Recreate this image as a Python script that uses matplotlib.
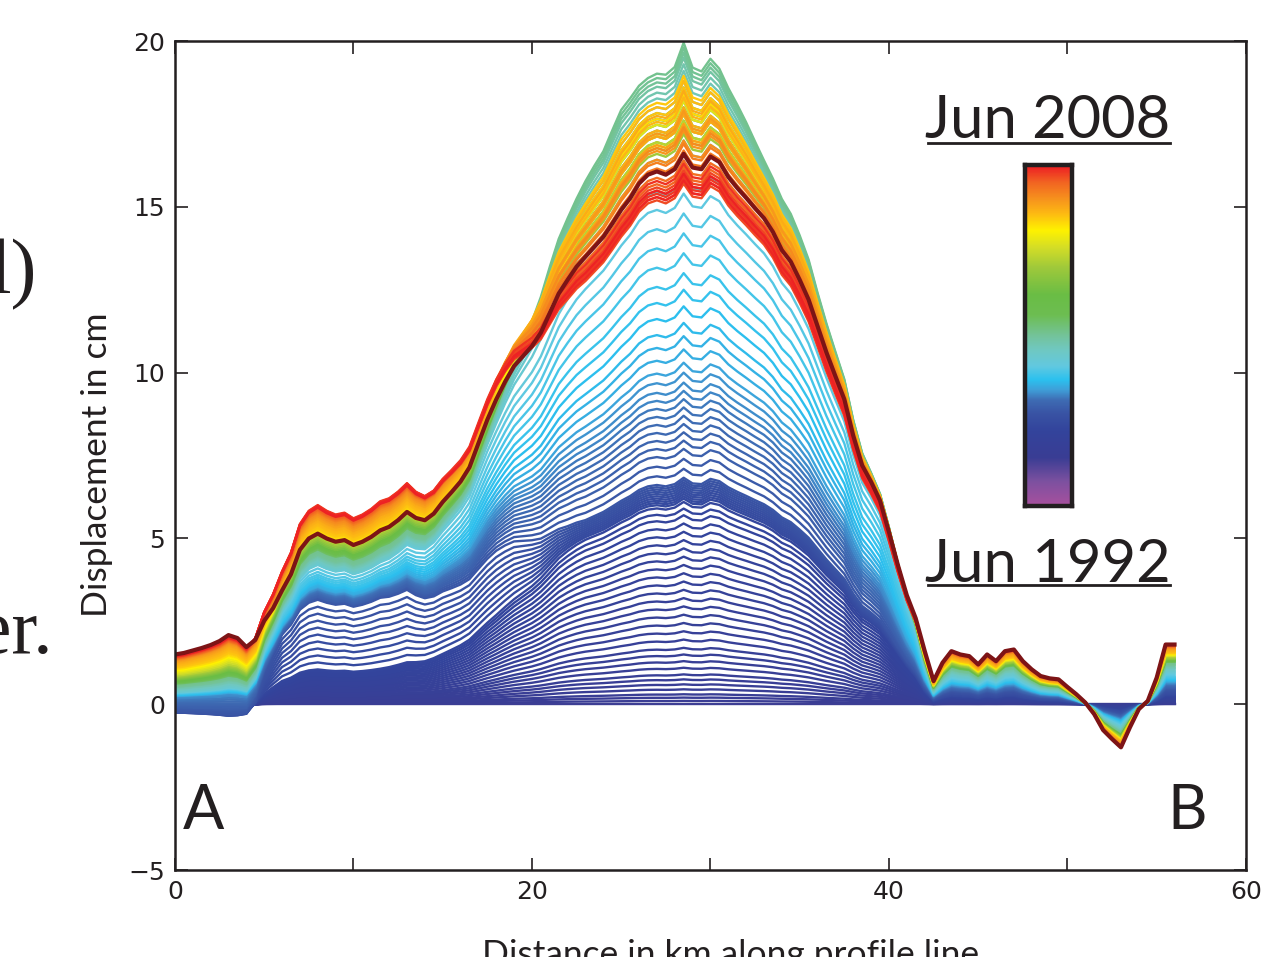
import numpy as np
import matplotlib
matplotlib.use("Agg")
import matplotlib.pyplot as plt
from matplotlib.colors import LinearSegmentedColormap
from matplotlib.lines import Line2D


# sample positions along the profile, km
X_KM = np.arange(0, 56.01, 0.5)

# spatial patterns (value per 0.5 km sample)
WEST_SHAPE = np.concatenate([
    [1.0, 1.03, 1.08, 1.13, 1.19, 1.27, 1.39, 1.33, 1.15, 0.9, 0.5, 0.2],
    np.zeros(101)])
LEFT_SHAPE = np.concatenate([
    np.zeros(9),
    [0.12, 0.36, 0.53, 0.70, 0.80, 0.95, 1.02, 1.05, 1.02, 1.0, 1.01, 0.98,
     1.0, 1.03, 1.07, 1.058, 1.065, 1.082, 0.994, 0.929, 0.902, 0.906, 0.882,
     0.862, 0.848, 0.86, 0.87, 0.86, 0.80, 0.726, 0.618, 0.51, 0.39, 0.29,
     0.19, 0.105, 0.05],
    np.zeros(67)])
DOME_SHAPE = np.concatenate([
    np.zeros(24),
    [0.01, 0.02, 0.03, 0.045, 0.06, 0.08, 0.1, 0.125, 0.15, 0.18, 0.22,
     0.26, 0.3, 0.35, 0.4, 0.45, 0.5, 0.56, 0.625, 0.69, 0.74, 0.78, 0.813,
     0.831, 0.849, 0.873, 0.898, 0.919, 0.946, 0.962, 0.968, 0.962, 0.972,
     1.0, 0.975, 0.972, 0.995, 0.985, 0.958, 0.938, 0.92, 0.901, 0.883,
     0.858, 0.825, 0.804, 0.771, 0.735, 0.687, 0.639, 0.596, 0.554, 0.488,
     0.434, 0.404, 0.370, 0.313, 0.247, 0.18, 0.12, 0.04],
    np.zeros(28)])
# narrower crest: the part of the uplift above the 2008 level
CREST_SHAPE = np.concatenate([
    np.zeros(33),
    [0.0, 0.02, 0.04, 0.08, 0.13, 0.18, 0.24, 0.3, 0.38, 0.46, 0.52, 0.57,
     0.62, 0.68, 0.73, 0.77, 0.84, 0.9, 0.9, 0.88, 0.87, 0.88, 0.9, 0.92,
     1.0, 0.9, 0.88, 0.88, 0.84, 0.8, 0.75, 0.68, 0.6, 0.52, 0.48, 0.46,
     0.43, 0.4, 0.36, 0.3, 0.26, 0.22, 0.18, 0.14, 0.11, 0.08, 0.06, 0.04,
     0.02, 0.0],
    np.zeros(30)])
EAST_SHAPE = np.concatenate([
    np.zeros(81),
    [0.1, 0.3, 0.6, 0.95, 0.7, 1.25, 1.6, 1.5, 1.45, 1.2, 1.5, 1.3, 1.6, 1.65,
     1.3, 1.05, 0.85, 0.78, 0.75, 0.52, 0.3, 0.05, -0.3, -0.78, -1.05, -1.3,
     -0.7, -0.15, 0.1, 0.8, 1.8, 1.8]])
DOME_2008_CM = 16.6

# one entry per acquisition, oldest first (last one = Jun 2008)
COLOR_POS = [
    0.140, 0.143, 0.146, 0.149, 0.152, 0.155, 0.158, 0.161, 0.164, 0.167,
    0.170, 0.173, 0.176, 0.179, 0.182, 0.185, 0.188, 0.191, 0.194, 0.197,
    0.200, 0.203, 0.206, 0.209, 0.212, 0.215, 0.218, 0.221, 0.224, 0.227,
    0.240, 0.244, 0.248, 0.252, 0.256, 0.260, 0.264, 0.268, 0.272, 0.276,
    0.280, 0.285, 0.290, 0.295, 0.300, 0.305, 0.310, 0.315, 0.320, 0.325,
    0.330, 0.335,
    0.345, 0.352, 0.358, 0.364, 0.370, 0.376, 0.382, 0.388, 0.394, 0.400,
    0.410, 0.420,
    0.43, 0.44, 0.45, 0.46, 0.47, 0.48, 0.49, 0.50, 0.505, 0.51,
    0.55, 0.575, 0.60, 0.62, 0.64, 0.66, 0.68, 0.70,
    0.73, 0.75, 0.77, 0.79, 0.81, 0.83,
    0.845, 0.850, 0.856, 0.862, 0.868, 0.874, 0.880, 0.886, 0.892, 0.898,
    0.904, 0.910, 0.918, 0.926,
    0.940, 0.947, 0.953, 0.960, 0.966, 0.972, 0.978, 0.984, 0.990, 0.996,
    1.0]
# displacement at the dome peak (x = 28.5 km), cm
CENTER_CM = [
    0.0, 0.1, 0.2, 0.3, 0.45, 0.6, 0.75, 0.9, 1.1, 1.3,
    1.5, 1.7, 1.95, 2.2, 2.45, 2.7, 2.95, 3.2, 3.45, 3.7,
    3.95, 4.2, 4.45, 4.7, 4.95, 5.2, 5.45, 5.7, 5.9, 6.1,
    6.2, 6.27, 6.34, 6.41, 6.48, 6.55, 6.62, 6.69, 6.76, 6.83,
    7.1, 7.4, 7.7, 7.95, 8.2, 8.45, 8.7, 8.95, 9.2, 9.45,
    9.7, 10.0,
    10.3, 10.7, 11.1, 11.5, 12.0, 12.5, 13.0, 13.6, 14.2, 14.8,
    15.4, 15.95,
    17.0, 17.8, 18.4, 18.8, 19.1, 19.3, 19.5, 19.65, 19.8, 19.95,
    18.6, 18.4, 18.2, 18.0, 17.8, 17.6, 17.4, 17.2,
    17.6, 17.9, 18.2, 17.5, 17.8, 18.4,
    18.95, 18.6, 18.8, 18.3, 18.0, 18.5, 17.8, 17.5, 17.9, 17.3,
    17.0, 17.4, 16.9, 16.7,
    16.4, 16.2, 16.0, 15.8, 15.7, 16.1, 15.9, 16.3, 15.8, 16.0,
    16.6]
# displacement on the western shoulder (x = 9 km), cm
LEFT_CM = [
    0.0, 0.02, 0.04, 0.06, 0.08, 0.1, 0.13, 0.16, 0.19, 0.22,
    0.25, 0.28, 0.32, 0.36, 0.4, 0.44, 0.48, 0.52, 0.56, 0.6,
    0.64, 0.68, 0.72, 0.76, 0.8, 0.84, 0.88, 0.92, 0.96, 1.0,
    1.2, 1.4, 1.6, 1.8, 2.0, 2.2, 2.4, 2.6, 2.8, 3.0,
    3.03, 3.06, 3.09, 3.12, 3.15, 3.18, 3.21, 3.24, 3.27, 3.3,
    3.32, 3.34,
    3.37, 3.4, 3.44, 3.48, 3.52, 3.56, 3.6, 3.66, 3.72, 3.8,
    3.9, 4.0,
    4.02, 4.06, 4.1, 4.14, 4.18, 4.22, 4.26, 4.3, 4.35, 4.4,
    4.45, 4.5, 4.55, 4.6, 4.65, 4.7, 4.75, 4.8,
    4.85, 4.88, 4.9, 4.93, 4.96, 5.0,
    5.05, 5.1, 5.15, 5.2, 5.25, 5.3, 5.33, 5.36, 5.4, 5.43,
    5.46, 5.5, 5.52, 5.55,
    5.58, 5.6, 5.62, 5.65, 5.68, 5.7, 5.72, 5.7, 5.68, 5.65,
    4.9]
# displacement at the profile start A (x = 0 km), cm
WEST_CM = [
    0.0, 0.0, -0.01, -0.01, -0.02, -0.02, -0.03, -0.03, -0.04, -0.04,
    -0.05, -0.05, -0.05, -0.06, -0.06, -0.06, -0.07, -0.07, -0.07, -0.08,
    -0.08, -0.08, -0.09, -0.09, -0.09, -0.1, -0.1, -0.1, -0.1, -0.1,
    -0.11, -0.14, -0.17, -0.2, -0.22, -0.24, -0.25, -0.25, -0.24, -0.22,
    -0.18, -0.14, -0.1, -0.06, -0.02, 0.02, 0.06, 0.1, 0.14, 0.18,
    0.21, 0.24,
    0.25, 0.26, 0.27, 0.28, 0.29, 0.3, 0.31, 0.32, 0.33, 0.34,
    0.35, 0.36,
    0.37, 0.39, 0.42, 0.44, 0.47, 0.49, 0.52, 0.54, 0.57, 0.59,
    0.62, 0.65, 0.68, 0.71, 0.74, 0.77, 0.8, 0.83,
    0.86, 0.9, 0.94, 0.98, 1.02, 1.06,
    1.1, 1.13, 1.16, 1.19, 1.22, 1.25, 1.27, 1.29, 1.31, 1.33,
    1.34, 1.35, 1.36, 1.37,
    1.38, 1.39, 1.4, 1.41, 1.42, 1.43, 1.44, 1.44, 1.45, 1.45,
    1.5]
# scale of the eastern part (x > 41 km), relative to Jun 2008
EAST_SCALE = [
    0.0, 0.005, 0.01, 0.015, 0.02, 0.025, 0.03, 0.035, 0.04, 0.045,
    0.05, 0.055, 0.06, 0.065, 0.07, 0.075, 0.08, 0.085, 0.09, 0.095,
    0.1, 0.105, 0.11, 0.115, 0.12, 0.125, 0.13, 0.135, 0.14, 0.15,
    0.16, 0.17, 0.18, 0.19, 0.2, 0.21, 0.22, 0.23, 0.24, 0.25,
    0.26, 0.27, 0.28, 0.29, 0.3, 0.31, 0.32, 0.33, 0.34, 0.35,
    0.36, 0.37,
    0.38, 0.39, 0.4, 0.41, 0.42, 0.43, 0.44, 0.45, 0.46, 0.48,
    0.5, 0.52,
    0.54, 0.56, 0.58, 0.6, 0.61, 0.63, 0.65, 0.66, 0.68, 0.69,
    0.71, 0.72, 0.73, 0.74, 0.75, 0.76, 0.77, 0.78,
    0.8, 0.81, 0.82, 0.83, 0.84, 0.85,
    0.86, 0.87, 0.88, 0.89, 0.9, 0.91, 0.92, 0.93, 0.94, 0.95,
    0.95, 0.96, 0.96, 0.97,
    0.97, 0.98, 0.98, 0.99, 0.99, 1.0, 1.0, 1.0, 1.0, 1.0,
    1.0]

CBAR_COLORS = [
    (0.0, '#a8509e'), (0.07, '#7d51a0'), (0.14, '#3a3d94'), (0.22, '#33449c'),
    (0.27, '#3953a4'), (0.31, '#3e6cb4'), (0.34, '#3f9fd8'), (0.37, '#2bc1ef'),
    (0.41, '#62c9e0'), (0.46, '#70c8c0'), (0.50, '#74c39a'), (0.56, '#6dbe52'),
    (0.62, '#6abd45'), (0.70, '#9fc93b'), (0.76, '#d5de26'), (0.81, '#fff200'),
    (0.86, '#fdb913'), (0.90, '#f7941d'), (0.95, '#f26522'), (1.0, '#ed1c24')]
cmap = LinearSegmentedColormap.from_list('insar', CBAR_COLORS)

INK = '#231f20'
LABEL_FONT = ['Lato', 'DejaVu Sans']

fig = plt.figure(figsize=(12.64, 9.57), dpi=100)
ax = fig.add_axes([0.1384, 0.0909, 0.8473, 0.8662])

n = len(COLOR_POS)
for k in range(n):
    c = CENTER_CM[k]
    prof = (min(c, DOME_2008_CM) * DOME_SHAPE
            + max(c - DOME_2008_CM, 0.0) * CREST_SHAPE
            + LEFT_CM[k] * LEFT_SHAPE + WEST_CM[k] * WEST_SHAPE
            + EAST_SCALE[k] * EAST_SHAPE)
    if k == n - 1:
        ax.plot(X_KM, prof, color='#7d1416', lw=3.0, solid_joinstyle='round')
    else:
        ax.plot(X_KM, prof, color=cmap(COLOR_POS[k]), lw=1.7,
                solid_joinstyle='round')

ax.set_xlim(0, 60)
ax.set_ylim(-5, 20)
ax.set_xticks([0, 10, 20, 30, 40, 50, 60])
ax.set_xticklabels(['0', '', '20', '', '40', '', '60'])
ax.set_yticks([-5, 0, 5, 10, 15, 20])
ax.set_yticklabels(['\u22125', '0', '5', '10', '15', '20'])
ax.tick_params(direction='in', length=9, width=1.2, top=True, right=True,
               labelsize=18, pad=7, colors=INK)
for s in ax.spines.values():
    s.set_linewidth(1.8)
    s.set_color(INK)

ax.text(0.45, -3.75, 'A', fontsize=44, family=LABEL_FONT, color=INK)
ax.text(55.6, -3.75, 'B', fontsize=44, family=LABEL_FONT, color=INK)

fig.text(0.077, 0.514, 'Displacement in cm', rotation=90, fontsize=25.5,
         family=LABEL_FONT, color=INK, ha='center', va='center')
fig.text(0.578, -0.008, 'Distance in km along profile line', fontsize=25.5,
         family=LABEL_FONT, color=INK, ha='center', va='baseline')

# colour scale
cax = fig.add_axes([0.811, 0.4713, 0.0372, 0.3563])
grad = np.linspace(0, 1, 256).reshape(-1, 1)
cax.imshow(grad, cmap=cmap, aspect='auto', origin='lower')
cax.set_xticks([])
cax.set_yticks([])
for s in cax.spines.values():
    s.set_linewidth(3.2)
    s.set_color(INK)

fig.text(0.829, 0.856, 'Jun 2008', fontsize=43, family=LABEL_FONT,
         color=INK, ha='center', va='baseline')
fig.text(0.829, 0.392, 'Jun 1992', fontsize=43, family=LABEL_FONT,
         color=INK, ha='center', va='baseline')
fig.add_artist(Line2D([0.734, 0.926], [0.8506, 0.8506], color=INK, lw=2.0))
fig.add_artist(Line2D([0.734, 0.926], [0.3887, 0.3887], color=INK, lw=2.0))

# fragments of the surrounding page text
fig.text(-0.008, 0.694, 'l)', fontsize=56, family=['Liberation Serif'],
         color=INK, va='baseline')
fig.text(-0.018, 0.318, 'er.', fontsize=56, family=['Liberation Serif'],
         color=INK, va='baseline')

fig.savefig('out.png', dpi=100)
